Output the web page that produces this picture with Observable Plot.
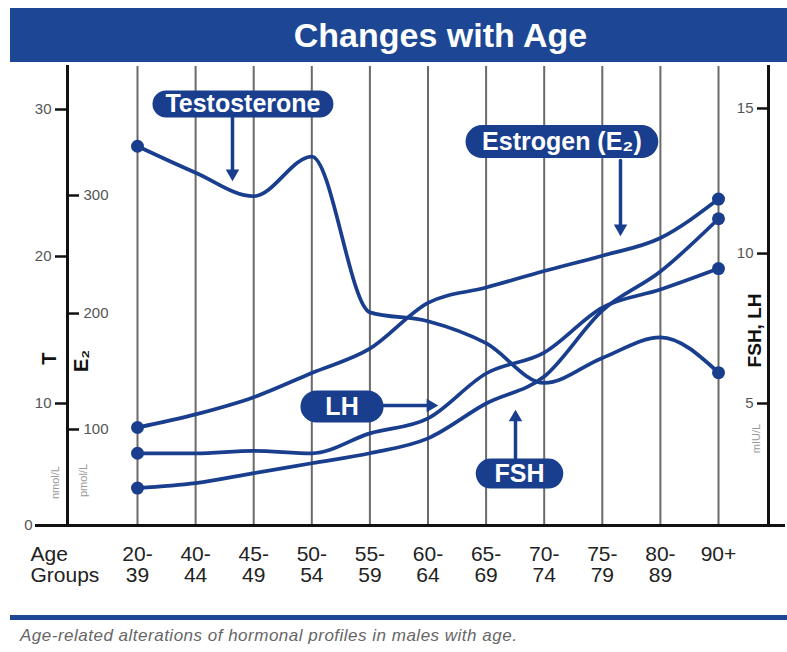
<!DOCTYPE html>
<html><head><meta charset="utf-8">
<script src="https://cdn.jsdelivr.net/npm/d3@7"></script>
<script src="https://cdn.jsdelivr.net/npm/@observablehq/plot@0.6"></script>
<style>
body{margin:0;background:#fff;font-family:"Liberation Sans",Arial,sans-serif;width:787px;height:652px;overflow:hidden}
#banner{margin:8px 0 0 10px;height:54px;width:777px;box-sizing:border-box;background:#1d4794;color:#fff;font-weight:bold;font-size:34px;line-height:54px;text-align:center;padding-left:84px}
#chart svg{display:block}
#rule{margin:8px 0 0 10px;height:5px;width:777px;background:#1d4794}
#caption{margin:6px 0 0 20px;font-style:italic;font-size:17px;letter-spacing:0.5px;color:#666;line-height:20px;white-space:nowrap}
</style></head>
<body>
<div id="banner">Changes with Age</div>
<div id="chart"></div>
<div id="rule"></div>
<div id="caption">Age-related alterations of hormonal profiles in males with age.</div>
<script>
// ---- data ----
const ageGroups = ["20-\n39","40-\n44","45-\n49","50-\n54","55-\n59","60-\n64","65-\n69","70-\n74","75-\n79","80-\n89","90+"];
const testosterone = [27.5, 25.7, 24.1, 26.8, 16.2, 15.6, 14.1, 11.4, 13.1, 14.5, 12.1]; // nmol/L
const estradiol   = [102, 115, 131, 151, 171, 209, 222, 236, 249, 264, 297];          // pmol/L
const lh          = [3.0, 3.0, 3.1, 3.0, 3.8, 4.4, 6.0, 6.7, 8.2, 8.8, 9.5];          // mIU/mL
const fsh         = [1.6, 1.8, 2.2, 2.6, 3.0, 3.6, 5.0, 5.9, 8.1, 9.4, 11.2];         // mIU/mL
const tTicks = [10, 20, 30];
const e2Ticks = [100, 200, 300];
const ghTicks = [5, 10, 15];

// ---- secondary axis mappings into the T (nmol/L) axis ----
const e2ToT = d3.scaleLinear([100, 200, 300], [7.87, 16.12, 24.15]);
const ghToT = d3.scaleLinear([5, 10, 15], [10, 20.2, 30.07]);

const navy = "#1a3e8e";
const series = [
  {name: "Testosterone", values: testosterone, toT: v => v},
  {name: "Estrogen", values: estradiol, toT: e2ToT},
  {name: "LH", values: lh, toT: ghToT},
  {name: "FSH", values: fsh, toT: ghToT}
];
const rows = series.flatMap(s => s.values.map((v, i) => ({series: s.name, i, y: s.toT(v)})));
const ends = rows.filter(d => d.i === 0 || d.i === ageGroups.length - 1);

// annotations (x in age-group index, y in T units)
const pills = [
  {text: "Testosterone", x1: 0.49, x2: 3.14, y: 30.37, h: 27},
  {text: "Estrogen (E₂)", x1: 5.93, x2: 8.68, y: 27.82, h: 33},
  {text: "LH", x1: 3.08, x2: 3.96, y: 9.75, h: 32},
  {text: "FSH", x1: 6.08, x2: 7.07, y: 4.26, h: 30}
];
const arrows = [
  {x1: 1.635, y1: 29.46, x2: 1.635, y2: 25.17, rotate: 180, dx: 0, dy: -7},
  {x1: 8.313, y1: 26.53, x2: 8.313, y2: 21.43, rotate: 180, dx: 0, dy: -7},
  {x1: 4.234, y1: 9.84, x2: 5.164, y2: 9.84, rotate: 90, dx: -7, dy: 0},
  {x1: 6.506, y1: 5.49, x2: 6.506, y2: 9.43, rotate: 0, dx: 0, dy: 7}
];

// axis titles (y in T units)
const axisTitles = [
  {text: "T", side: "left", y: 13.06, dx: -18, size: 20, bold: true},
  {text: "E₂", side: "left", y: 12.9, dx: 14, size: 20, bold: true},
  {text: "nmol/L", side: "left", y: 3.52, dx: -12, size: 11, bold: false},
  {text: "pmol/L", side: "left", y: 3.69, dx: 16, size: 11, bold: false},
  {text: "FSH, LH", side: "right", y: 14.97, dx: -14, size: 19, bold: true},
  {text: "mIU/L", side: "right", y: 7.13, dx: -12, size: 11, bold: false}
];

const W = 787, mL = 67, mR = 19;
const plot = Plot.plot({
  width: W, height: 545,
  marginTop: 4, marginBottom: 82, marginLeft: mL, marginRight: mR,
  style: {fontFamily: '"Liberation Sans", Arial, sans-serif', background: "transparent", color: "#111"},
  x: {type: "linear", domain: [0, ageGroups.length - 1], range: [137, 718]},
  y: {type: "linear", domain: [0, 10, 30], range: [463, 341, 47]},
  marks: [
    Plot.ruleX(d3.range(ageGroups.length), {stroke: "#6a6a6a", strokeWidth: 2}),
    Plot.frame({anchor: "left", stroke: "#111", strokeWidth: 3}),
    Plot.frame({anchor: "right", stroke: "#111", strokeWidth: 3}),
    Plot.ruleY([0], {stroke: "#111", strokeWidth: 3, insetLeft: -32, insetRight: -17}),
    Plot.line(rows, {x: "i", y: "y", z: "series", curve: "monotone-x", stroke: navy, strokeWidth: 3.7}),
    Plot.dot(ends, {x: "i", y: "y", r: 6.5, fill: navy}),
    Plot.link(pills, {x1: "x1", x2: "x2", y1: "y", y2: "y", stroke: navy, strokeWidth: "h", strokeLinecap: "round"}),
    Plot.text(pills, {x: d => (d.x1 + d.x2) / 2, y: "y", text: "text", fill: "white", fontWeight: "bold", fontSize: 25}),
    Plot.arrow(arrows, {x1: "x1", y1: "y1", x2: "x2", y2: "y2", stroke: navy, strokeWidth: 3.5, headLength: 0, insetEnd: 7}),
    ...arrows.map(a => Plot.dot([a], {x: "x2", y: "y2", symbol: "triangle", r: 5, rotate: a.rotate, fill: navy, dx: a.dx, dy: a.dy})),
    // axes
    Plot.axisY(tTicks, {anchor: "left", tickSize: 12, tickPadding: 4, fontSize: 15, color: "#555", stroke: "#111", strokeWidth: 2.5, label: null}),
    Plot.axisY([0], {anchor: "left", tickSize: 0, tickPadding: 35, fontSize: 15, color: "#555", label: null}),
    Plot.axisY(e2Ticks.map(e2ToT), {anchor: "right", dx: -(W - mL - mR), tickSize: 11, tickPadding: 5, fontSize: 15, color: "#555", stroke: "#111", strokeWidth: 2.5, label: null,
      tickFormat: d => Math.round(e2ToT.invert(d))}),
    Plot.axisY(ghTicks.map(ghToT), {anchor: "left", dx: (W - mL - mR), tickSize: 11, tickPadding: 4, fontSize: 15, color: "#555", stroke: "#111", strokeWidth: 2.5, label: null,
      tickFormat: d => Math.round(ghToT.invert(d))}),
    Plot.axisX(d3.range(ageGroups.length), {anchor: "bottom", tickSize: 0, tickPadding: 21, fontSize: 21, color: "#222", label: null,
      tickFormat: i => ageGroups[i]}),
    Plot.text(["Age\nGroups"], {text: d => d, frameAnchor: "bottom-left", dx: -37, dy: 21, textAnchor: "start", lineAnchor: "top", fontSize: 21, fill: "#222"}),
    // axis titles
    ...axisTitles.map(t => Plot.text([t], {text: "text", frameAnchor: t.side, y: "y", dx: t.dx, rotate: -90,
      textAnchor: "middle", lineAnchor: "middle", fontSize: t.size, fontWeight: t.bold ? "bold" : "normal",
      fill: t.bold ? "#111" : "#999"}))
  ]
});
document.getElementById("chart").append(plot);
</script>
</body></html>
